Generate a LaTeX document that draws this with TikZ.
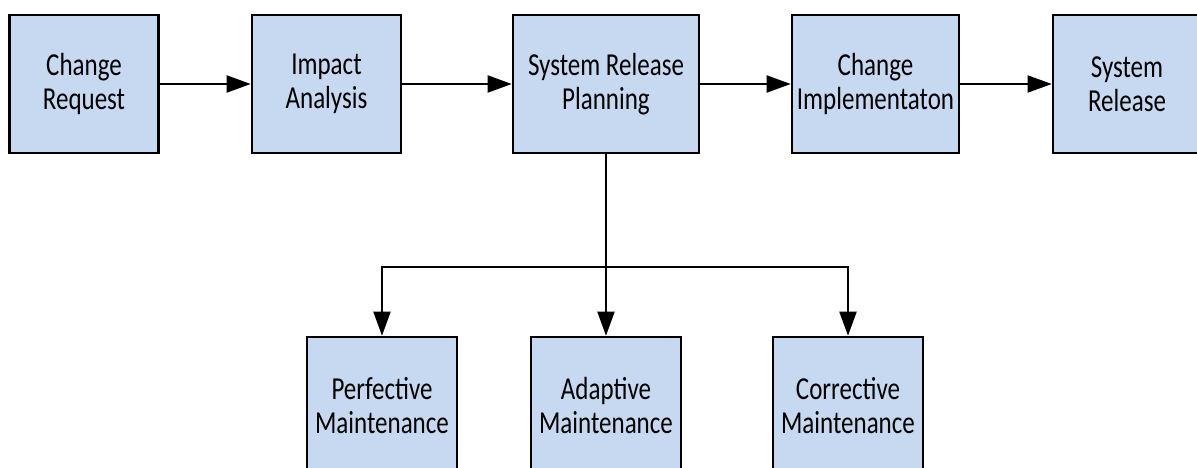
\documentclass[tikz,border=0pt]{standalone}
\usepackage{fontspec}
\usepackage{graphicx}
\setmainfont{Carlito}
\usetikzlibrary{arrows.meta}
\definecolor{boxblue}{RGB}{198,217,240}
\newcommand\tallt[1]{\scalebox{1}[1.28]{#1}}
\begin{document}
\begin{tikzpicture}[x=1pt,y=-1pt,
  stepbox/.style={draw=black, line width=2.6pt, fill=boxblue, minimum height=138pt,
    inner sep=0pt, align=center, font=\fontsize{25}{34}\selectfont},
  arr/.style={line width=2pt, -{Triangle[length=24pt,width=17pt]}}]
\clip (0,0) rectangle (1197,468);
\useasboundingbox (0,0) rectangle (1197,468);
\node[stepbox, minimum width=149pt] (cr) at (84,84) {\tallt{Change}\\\tallt{Request}};
\node[stepbox, minimum width=149pt] (ia) at (326.5,84) {\tallt{Impact}\\\tallt{Analysis}};
\node[stepbox, minimum width=186pt] (srp) at (606,84) {\tallt{System Release}\\\tallt{Planning}};
\node[stepbox, minimum width=167pt] (ci) at (875.5,84) {\tallt{Change}\\\tallt{Implementaton}};
\node[stepbox, minimum width=148pt] (sr) at (1127,84) {\tallt{System}\\\tallt{Release}};
\node[stepbox, minimum width=150pt] (pm) at (382,406) {\tallt{Perfective}\\\tallt{Maintenance}};
\node[stepbox, minimum width=150pt] (am) at (606,406) {\tallt{Adaptive}\\\tallt{Maintenance}};
\node[stepbox, minimum width=150pt] (cm) at (848,406) {\tallt{Corrective}\\\tallt{Maintenance}};
\coordinate (j) at (606,267);
\draw[arr] (cr) -- (ia);
\draw[arr] (ia) -- (srp);
\draw[arr] (srp) -- (ci);
\draw[arr] (ci) -- (sr);
\draw[arr] (srp) -- (am);
\draw[arr] (j) -| (pm.north);
\draw[arr] (j) -| (cm.north);
\end{tikzpicture}
\end{document}
